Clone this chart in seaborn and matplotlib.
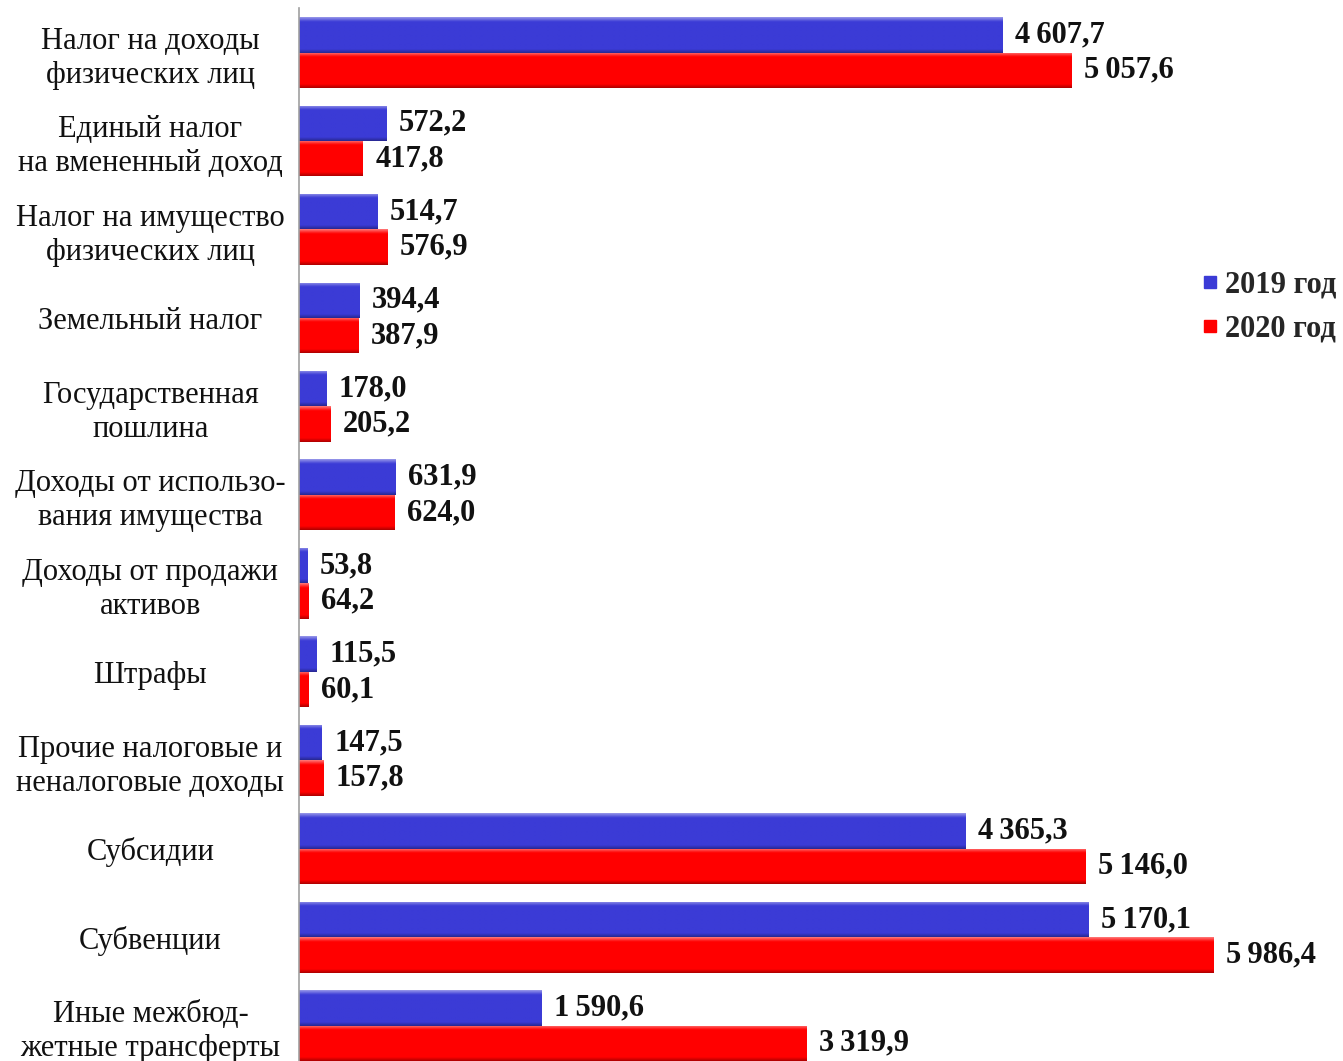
import numpy as np
import pandas as pd
import matplotlib
matplotlib.use("Agg")
import matplotlib.pyplot as plt
import seaborn as sns
from matplotlib.lines import Line2D
from matplotlib.colors import to_rgb

categories = [
    "Налог на доходы\nфизических лиц",
    "Единый налог\nна вмененный доход",
    "Налог на имущество\nфизических лиц",
    "Земельный налог",
    "Государственная\nпошлина",
    "Доходы от использо-\nвания имущества",
    "Доходы от продажи\nактивов",
    "Штрафы",
    "Прочие налоговые и\nненалоговые доходы",
    "Субсидии",
    "Субвенции",
    "Иные межбюд-\nжетные трансферты",
]
values_2019 = [4607.7, 572.2, 514.7, 394.4, 178.0, 631.9, 53.8, 115.5, 147.5, 4365.3, 5170.1, 1590.6]
values_2020 = [5057.6, 417.8, 576.9, 387.9, 205.2, 624.0, 64.2, 60.1, 157.8, 5146.0, 5986.4, 3319.9]
series_names = ["2019 год", "2020 год"]

colors = {"2019 год": "#3B3BD6", "2020 год": "#FF0000"}

df = pd.DataFrame({
    "cat": categories * 2,
    "val": values_2019 + values_2020,
    "year": [series_names[0]] * len(categories) + [series_names[1]] * len(categories),
})

sns.set_style("white")
plt.rcParams["font.family"] = ["Liberation Serif", "DejaVu Serif"]

fig = plt.figure(figsize=(13.43, 10.61), dpi=100)
ax = fig.add_axes([299 / 1343, 0.0, (1292 - 299) / 1343, 1 - 8.3 / 1061])

sns.barplot(data=df, y="cat", x="val", hue="year", orient="h", ax=ax,
            palette=colors, hue_order=series_names, order=categories,
            saturation=1, width=0.8, legend=False, edgecolor="none")

def fmt(v):
    s = f"{v:,.1f}"
    return s.replace(",", "\u2009").replace(".", ",")

def shade(c, f):
    r, g, b = to_rgb(c)
    if f >= 0:
        return (r + (1 - r) * f, g + (1 - g) * f, b + (1 - b) * f)
    return (r * (1 + f), g * (1 + f), b * (1 + f))

# gradient overlay on each bar (3D look)
for cont, name in zip(ax.containers, series_names):
    base = colors[name]
    n = 40
    t = np.linspace(0, 1, n)
    grad = np.zeros((n, 2, 3))
    for i, tt in enumerate(t):
        if tt < 0.12:
            c = shade(base, 0.45 * (1 - tt / 0.12))
        elif tt > 0.9:
            c = shade(base, -0.3 * (tt - 0.9) / 0.1)
        else:
            c = to_rgb(base)
        grad[i, :, :] = c
    for p in cont.patches:
        x0, y0 = p.get_x(), p.get_y()
        w, h = p.get_width(), p.get_height()
        im = ax.imshow(grad, extent=[x0, x0 + w, y0 + h, y0], origin="upper",
                       aspect="auto", zorder=p.get_zorder() + 0.1, interpolation="bilinear")
        im.set_clip_path(p)

for cont, vals in zip(ax.containers, [values_2019, values_2020]):
    ax.bar_label(cont, labels=[fmt(v) for v in vals], padding=9,
                 fontsize=22, fontweight="bold", color="#111111")

ax.set_xlim(0, 6500)
ax.set_ylim(11.4, -0.5)
ax.set_xlabel("")
ax.set_ylabel("")
ax.set_xticks([])
for s in ["top", "right", "bottom"]:
    ax.spines[s].set_visible(False)
ax.spines["left"].set_color("#A0A0A0")
ax.spines["left"].set_linewidth(1.2)
ax.tick_params(axis="y", length=0, pad=107)
for lbl in ax.get_yticklabels():
    lbl.set_ha("center")
    lbl.set_multialignment("center")
    lbl.set_fontsize(22)
    lbl.set_color("#111111")
    lbl.set_linespacing(1.22)

handles = [Line2D([0], [0], marker="s", linestyle="none", markersize=9,
                  markerfacecolor=colors[n], markeredgecolor=colors[n]) for n in series_names]
fig.legend(handles, series_names, loc="center left",
           bbox_to_anchor=(1190 / 1343, 1 - 307 / 1061), frameon=False,
           prop={"size": 22, "weight": "bold"}, handlelength=0.5, handletextpad=0.25,
           labelspacing=0.5, borderaxespad=0)

fig.savefig("out.png", dpi=100, facecolor="white")
